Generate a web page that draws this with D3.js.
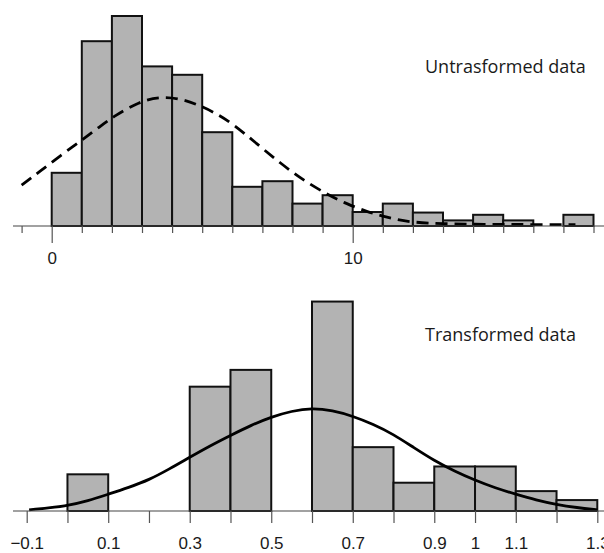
<!DOCTYPE html>
<html lang="en">
    <head>
        <title>Untransformed vs transformed data</title>
        <meta charset="utf-8">
        <script src="https://d3js.org/d3.v7.min.js"></script>
        <style>
            body {
                margin: 0;
                padding: 0;
                background-color: white;
                overflow: hidden;
            }
            .panel-title {
                font-family: "Open Sans", "Noto Sans", sans-serif;
                font-size: 18px;
                fill: #1a1a1a;
            }
        </style>
    </head>
    <body>
    <div id="container"></div>
    <script>
        // untransformed histogram: bins of width 1 from 0 to 18
        const rawBinStarts = [0, 1, 2, 3, 4, 5, 6, 7, 8, 9, 10, 11, 12, 13, 14, 15, 16, 17];
        const rawCounts = [19, 66, 75, 57, 54, 33.5, 14, 16, 8, 11, 5, 8, 4.8, 2, 4, 2, 0, 4];
        const rawBinWidth = 1;

        // fitted normal curve (x, height)
        const rawCurveX = [-1, -0.4, 0.3, 1.0, 1.6, 2.1, 2.9, 3.6, 4.25, 4.8, 5.4, 6.0, 6.8, 7.6, 8.35, 9.15, 9.8, 10.5, 11.0, 11.5, 12.0, 13.0, 14.0, 15.0, 16.0, 17.4];
        const rawCurveY = [14.6, 19.4, 25.2, 30.7, 35.5, 39.4, 44.4, 46.2, 45.5, 43.6, 40.6, 36.7, 29.5, 22.4, 16.4, 11.3, 7.9, 5.0, 3.5, 2.2, 1.3, 0.8, 0.6, 0.6, 0.5, 0.5];

        const rawTicks = d3.range(-1, 19);
        const rawLabels = ["0", "10"];

        // transformed histogram: bins of width 0.1
        const trBinStarts = [0.0, 0.3, 0.4, 0.6, 0.7, 0.8, 0.9, 1.0, 1.1, 1.2];
        const trCounts = [13.1, 44.4, 50.4, 74.8, 22.8, 10.1, 15.9, 15.9, 7.1, 3.9];
        const trBinWidth = 0.1;

        const trCurveX = [-0.094, 0.0, 0.05, 0.1, 0.15, 0.2, 0.25, 0.3, 0.35, 0.4, 0.45, 0.5, 0.55, 0.6, 0.65, 0.7, 0.75, 0.8, 0.85, 0.9, 0.95, 1.0, 1.05, 1.1, 1.15, 1.2, 1.25, 1.3];
        const trCurveY = [0.4, 1.8, 3.6, 6.0, 8.4, 11.1, 15.0, 19.2, 23.3, 27.0, 30.6, 33.6, 35.7, 36.8, 35.9, 33.9, 31.0, 27.4, 22.6, 18.0, 14.2, 11.0, 8.2, 6.0, 3.9, 2.3, 1.2, 0.4];

        const trTicks = d3.range(-1, 14);   // in tenths
        const trLabels = ["-0.1", "0.1", "0.3", "0.5", "0.7", "0.9", "1", "1.1", "1.3"];

        const w = 604;
        const h = 553;
        const barFill = "#b3b3b3";

        const svg = d3.select("#container")
            .append("svg")
            .attr("width", w)
            .attr("height", h);

        const drawPanel = (opts) => {
            const g = svg.append("g");

            g.selectAll("rect")
                .data(opts.starts.map((s, i) => ({ x0: s, x1: s + opts.binWidth, n: opts.counts[i] })).filter(d => d.n > 0))
                .enter()
                .append("rect")
                .attr("x", d => opts.x(d.x0))
                .attr("y", d => opts.y(d.n))
                .attr("width", d => opts.x(d.x1) - opts.x(d.x0))
                .attr("height", d => opts.y(0) - opts.y(d.n))
                .attr("fill", barFill)
                .attr("stroke", "#111")
                .attr("stroke-width", 2);

            const line = d3.line()
                .x(d => opts.x(d[0]))
                .y(d => opts.y(d[1]))
                .curve(d3.curveBasis);

            g.append("path")
                .datum(opts.curveX.map((v, i) => [v, opts.curveY[i]]))
                .attr("d", line)
                .attr("fill", "none")
                .attr("stroke", "#000")
                .attr("stroke-width", 2.8)
                .attr("stroke-dasharray", opts.dash);

            // axis line
            g.append("line")
                .attr("x1", 13)
                .attr("x2", w)
                .attr("y1", opts.y(0))
                .attr("y2", opts.y(0))
                .attr("stroke", "#444")
                .attr("stroke-width", 1.2);

            const axis = d3.axisBottom(opts.x)
                .tickValues(opts.ticks)
                .tickSize(opts.tickLen)
                .tickSizeOuter(0)
                .tickFormat(opts.fmt);

            const ax = g.append("g")
                .attr("transform", `translate(0, ${opts.y(0)})`)
                .call(axis)
                .attr("font-family", "'Liberation Sans', Arial, sans-serif")
                .attr("font-size", 17);

            ax.select(".domain").remove();
            ax.selectAll(".tick line")
                .attr("stroke", "#555")
                .attr("stroke-width", 1.2)
                .attr("y2", d => opts.fmt(d) !== "" ? opts.labelTickLen : opts.tickLen);
            ax.selectAll(".tick text")
                .attr("y", 26)
                .attr("fill", "#1a1a1a");

            g.append("text")
                .attr("class", "panel-title")
                .attr("x", 425)
                .attr("y", opts.titleY)
                .text(opts.title);
        };

        drawPanel({
            x: d3.scaleLinear().domain([0, 10]).range([51.7, 352.7]),
            y: d3.scaleLinear().domain([0, 75]).range([226, 16]),
            starts: rawBinStarts,
            counts: rawCounts,
            binWidth: rawBinWidth,
            curveX: rawCurveX,
            curveY: rawCurveY,
            dash: "12,7",
            ticks: rawTicks,
            tickLen: 7,
            labelTickLen: 17,
            fmt: d => rawLabels.includes(String(d)) ? String(d) : "",
            title: "Untrasformed data",
            titleY: 73
        });

        // transformed panel uses tenths on its x scale so the tick values stay whole numbers
        const tenths = d => {
            const s = String(d / 10);
            return trLabels.includes(s) ? s.replace("-", "\u2212") : "";
        };

        drawPanel({
            x: d3.scaleLinear().domain([-1, 13]).range([26.7, 597.3]),
            y: d3.scaleLinear().domain([0, 75]).range([511, 301]),
            starts: trBinStarts.map(d => d * 10),
            counts: trCounts,
            binWidth: trBinWidth * 10,
            curveX: trCurveX.map(d => d * 10),
            curveY: trCurveY,
            dash: null,
            ticks: trTicks,
            tickLen: 12,
            labelTickLen: 12,
            fmt: tenths,
            title: "Transformed data",
            titleY: 341
        });
    </script>
    </body>
</html>
